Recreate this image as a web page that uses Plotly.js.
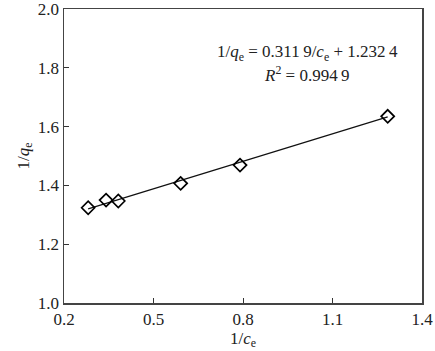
<!DOCTYPE html>
<html>
<head>
<meta charset="utf-8">
<script src="https://cdn.plot.ly/plotly-3.0.1.min.js"></script>
<style>html,body{margin:0;padding:0;background:#fff;}#chart{width:435px;height:351px;}</style>
</head>
<body>
<div id="chart"></div>
<script>
// Data
const invCe = [0.281, 0.341, 0.382, 0.591, 0.790, 1.285];
const invQe = [1.324, 1.350, 1.347, 1.407, 1.469, 1.635];
const slope = 0.3119;
const intercept = 1.2324;
const r2 = 0.9949;
const xTicks = [0.2, 0.5, 0.8, 1.1, 1.4];
const yTicks = [1.0, 1.2, 1.4, 1.6, 1.8, 2.0];

const serif = '"Liberation Serif", "Times New Roman", serif';
const xMin = Math.min(...invCe), xMax = Math.max(...invCe);
const fitX = [xMin, xMax];
const fitY = fitX.map(v => slope * v + intercept);

const traces = [
  {x: fitX, y: fitY, mode: 'lines', line: {color: '#111', width: 1.2}, hoverinfo: 'skip', showlegend: false},
  {x: invCe, y: invQe, mode: 'markers', marker: {symbol: 'diamond-open', size: 10, color: '#000', line: {width: 1.7, color: '#000'}}, showlegend: false}
];

const fs = 17;
const layout = {
  width: 435, height: 351,
  margin: {l: 64, r: 13, t: 9, b: 48},
  paper_bgcolor: '#fff', plot_bgcolor: '#fff',
  font: {family: serif, size: fs, color: '#222'},
  showlegend: false,
  xaxis: {
    range: [0.2, 1.4], tickvals: xTicks, ticktext: xTicks.map(v => v.toFixed(1)),
    ticks: 'inside', ticklen: 5, tickwidth: 1, tickcolor: '#333',
    showline: true, linecolor: '#444', linewidth: 1.5, mirror: true,
    showgrid: false, zeroline: false, ticklabeloverflow: 'allow',
    title: {text: '1/<i>c</i><sub>e</sub>', font: {family: serif, size: fs, color: '#222'}, standoff: 0},
    tickfont: {family: serif, size: fs, color: '#222'}
  },
  yaxis: {
    range: [1.0, 2.0], tickvals: yTicks, ticktext: yTicks.map(v => v.toFixed(1)),
    ticks: 'inside', ticklen: 5, tickwidth: 1, tickcolor: '#333',
    showline: true, linecolor: '#444', linewidth: 1.5, mirror: true,
    showgrid: false, zeroline: false, ticklabeloverflow: 'allow',
    title: {text: '1/<i>q</i><sub>e</sub>', font: {family: serif, size: fs, color: '#222'}, standoff: 4},
    tickfont: {family: serif, size: fs, color: '#222'}
  },
  annotations: [
    {x: 1.015, y: 1.849, xref: 'x', yref: 'y', showarrow: false,
     text: '1/<i>q</i><sub>e</sub> = 0.311\u20099/<i>c</i><sub>e</sub> + 1.232\u20094',
     font: {family: serif, size: fs, color: '#222'}},
    {x: 1.015, y: 1.779, xref: 'x', yref: 'y', showarrow: false,
     text: '<i>R</i><sup>2</sup> = 0.994\u20099',
     font: {family: serif, size: fs, color: '#222'}}
  ]
};

Plotly.newPlot('chart', traces, layout, {staticPlot: true, displayModeBar: false});
</script>
</body>
</html>
